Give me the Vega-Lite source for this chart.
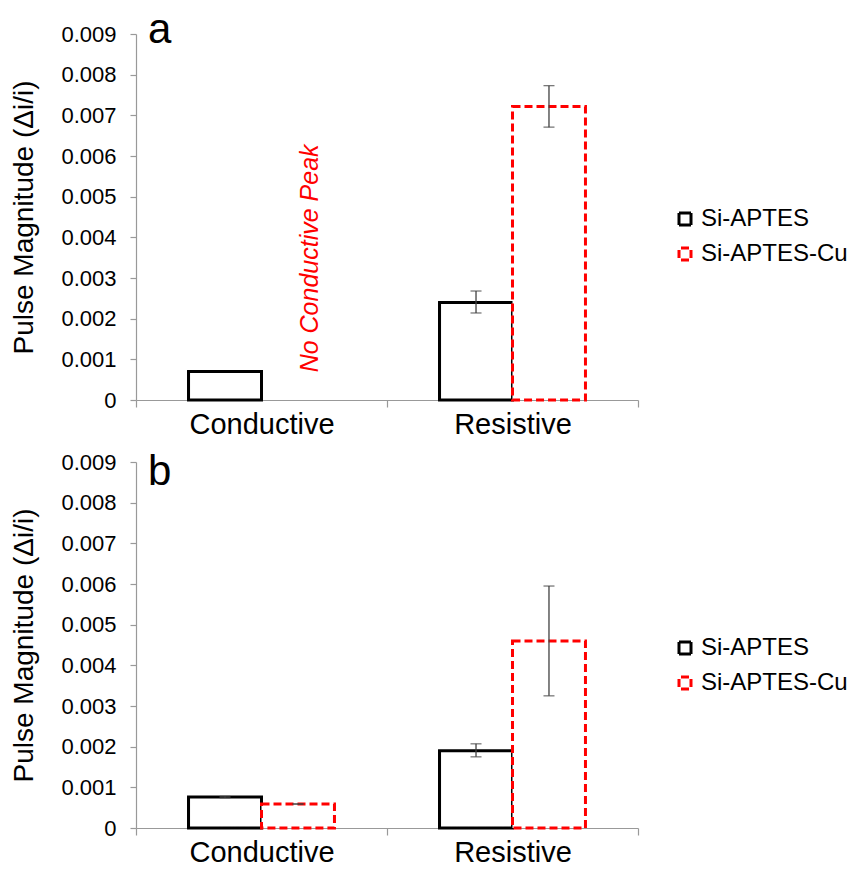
{
  "$schema": "https://vega.github.io/schema/vega-lite/v6.json",
  "padding": {"top": 8, "left": 10, "right": 0, "bottom": 0},
  "background": "white",
  "config": {
    "font": "Liberation Sans",
    "view": {"stroke": null},
    "axis": {"labelColor": "black", "titleColor": "black", "domainColor": "#999999", "tickColor": "#999999", "domainWidth": 1.2, "tickWidth": 1.2},
    "legend": {"labelFontSize": 24, "labelColor": "black", "symbolType": "square", "symbolSize": 144, "symbolStrokeWidth": 3, "symbolFillColor": "white", "symbolDashOffset": 10, "rowPadding": 11, "labelOffset": 4}
  },
  "datasets": {
    "a": [
      {"category": "Conductive", "series": "Si-APTES", "value": 0.0007},
      {"category": "Resistive", "series": "Si-APTES", "value": 0.0024, "lo": 0.00214, "hi": 0.00268},
      {"category": "Resistive", "series": "Si-APTES-Cu", "value": 0.00722, "lo": 0.00671, "hi": 0.00773}
    ],
    "b": [
      {"category": "Conductive", "series": "Si-APTES", "value": 0.00076, "lo": 0.000745, "hi": 0.000775},
      {"category": "Conductive", "series": "Si-APTES-Cu", "value": 0.00059, "lo": 0.000583, "hi": 0.000597},
      {"category": "Resistive", "series": "Si-APTES", "value": 0.0019, "lo": 0.00175, "hi": 0.00207},
      {"category": "Resistive", "series": "Si-APTES-Cu", "value": 0.0046, "lo": 0.00325, "hi": 0.00595}
    ]
  },
  "resolve": {"scale": {"stroke": "independent", "strokeDash": "independent"}},
  "spacing": 12,
  "vconcat": [
    {
      "width": 502,
      "height": 366,
      "layer": [
        {
          "data": {"name": "a"},
          "mark": {"type": "bar", "fill": "white", "strokeWidth": 3},
          "encoding": {
            "x": {"field": "category", "type": "nominal", "sort": ["Conductive", "Resistive"],
              "scale": {"paddingInner": 0, "paddingOuter": 0},
              "axis": {"title": null, "labelAngle": 0, "labelFontSize": 29, "labelPadding": 3, "tickBand": "extent", "tickSize": 7}},
            "xOffset": {"field": "series", "type": "nominal", "scale": {"domain": ["Si-APTES", "Si-APTES-Cu"], "paddingInner": 0, "paddingOuter": 0.72}},
            "y": {"field": "value", "type": "quantitative",
              "scale": {"domain": [0, 0.009], "nice": false},
              "axis": {"title": "Pulse Magnitude (Δi/i)", "titleFontSize": 28, "titleFontWeight": "normal", "titlePadding": 22, "values": [0, 0.001, 0.002, 0.003, 0.004, 0.005, 0.006, 0.007, 0.008, 0.009], "labelExpr": "datum.value == 0 ? '0' : format(datum.value, '.3f')", "labelFontSize": 22, "grid": false, "tickSize": 6, "labelPadding": 14}},
            "stroke": {"field": "series", "type": "nominal", "scale": {"domain": ["Si-APTES", "Si-APTES-Cu"], "range": ["#000000", "#ff0000"]},
              "legend": {"title": null, "orient": "none", "legendX": 537, "legendY": 173}},
            "strokeDash": {"field": "series", "type": "nominal", "scale": {"domain": ["Si-APTES", "Si-APTES-Cu"], "range": [[1, 0], [8, 4]]}, "legend": null}
          }
        },
        {
          "data": {"name": "a"},
          "mark": {"type": "rule", "color": "#404040", "strokeWidth": 1.3},
          "encoding": {
            "x": {"field": "category", "type": "nominal"},
            "xOffset": {"field": "series", "type": "nominal"},
            "y": {"field": "lo", "type": "quantitative"},
            "y2": {"field": "hi"}
          }
        },
        {
          "data": {"name": "a"},
          "mark": {"type": "tick", "color": "#404040", "thickness": 1.3, "size": 11, "orient": "horizontal"},
          "encoding": {
            "x": {"field": "category", "type": "nominal"},
            "xOffset": {"field": "series", "type": "nominal"},
            "y": {"field": "lo", "type": "quantitative"}
          }
        },
        {
          "data": {"name": "a"},
          "mark": {"type": "tick", "color": "#404040", "thickness": 1.3, "size": 11, "orient": "horizontal"},
          "encoding": {
            "x": {"field": "category", "type": "nominal"},
            "xOffset": {"field": "series", "type": "nominal"},
            "y": {"field": "hi", "type": "quantitative"}
          }
        },
        {
          "data": {"values": [{"category": "Conductive", "series": "Si-APTES-Cu", "pos": 0.00068, "label": "No Conductive Peak"}]},
          "mark": {"type": "text", "angle": 270, "align": "left", "baseline": "middle", "fontStyle": "italic", "fontSize": 25, "color": "#ff0000", "dy": 12},
          "encoding": {
            "x": {"field": "category", "type": "nominal"},
            "xOffset": {"field": "series", "type": "nominal"},
            "y": {"field": "pos", "type": "quantitative"},
            "text": {"field": "label"}
          }
        },
        {
          "data": {"values": [{"category": "Conductive", "pos": 0.00878, "label": "a"}]},
          "mark": {"type": "text", "align": "left", "baseline": "alphabetic", "fontSize": 42, "color": "black", "dx": 12},
          "encoding": {
            "x": {"field": "category", "type": "nominal", "bandPosition": 0},
            "y": {"field": "pos", "type": "quantitative"},
            "text": {"field": "label"}
          }
        }
      ]
    },
    {
      "width": 502,
      "height": 366,
      "layer": [
        {
          "data": {"name": "b"},
          "mark": {"type": "bar", "fill": "white", "strokeWidth": 3},
          "encoding": {
            "x": {"field": "category", "type": "nominal", "sort": ["Conductive", "Resistive"],
              "scale": {"paddingInner": 0, "paddingOuter": 0},
              "axis": {"title": null, "labelAngle": 0, "labelFontSize": 29, "labelPadding": 3, "tickBand": "extent", "tickSize": 7}},
            "xOffset": {"field": "series", "type": "nominal", "scale": {"domain": ["Si-APTES", "Si-APTES-Cu"], "paddingInner": 0, "paddingOuter": 0.72}},
            "y": {"field": "value", "type": "quantitative",
              "scale": {"domain": [0, 0.009], "nice": false},
              "axis": {"title": "Pulse Magnitude (Δi/i)", "titleFontSize": 28, "titleFontWeight": "normal", "titlePadding": 22, "values": [0, 0.001, 0.002, 0.003, 0.004, 0.005, 0.006, 0.007, 0.008, 0.009], "labelExpr": "datum.value == 0 ? '0' : format(datum.value, '.3f')", "labelFontSize": 22, "grid": false, "tickSize": 6, "labelPadding": 14}},
            "stroke": {"field": "series", "type": "nominal", "scale": {"domain": ["Si-APTES", "Si-APTES-Cu"], "range": ["#000000", "#ff0000"]},
              "legend": {"title": null, "orient": "none", "legendX": 537, "legendY": 174}},
            "strokeDash": {"field": "series", "type": "nominal", "scale": {"domain": ["Si-APTES", "Si-APTES-Cu"], "range": [[1, 0], [8, 4]]}, "legend": null}
          }
        },
        {
          "data": {"name": "b"},
          "mark": {"type": "rule", "color": "#404040", "strokeWidth": 1.3},
          "encoding": {
            "x": {"field": "category", "type": "nominal"},
            "xOffset": {"field": "series", "type": "nominal"},
            "y": {"field": "lo", "type": "quantitative"},
            "y2": {"field": "hi"}
          }
        },
        {
          "data": {"name": "b"},
          "mark": {"type": "tick", "color": "#404040", "thickness": 1.3, "size": 11, "orient": "horizontal"},
          "encoding": {
            "x": {"field": "category", "type": "nominal"},
            "xOffset": {"field": "series", "type": "nominal"},
            "y": {"field": "lo", "type": "quantitative"}
          }
        },
        {
          "data": {"name": "b"},
          "mark": {"type": "tick", "color": "#404040", "thickness": 1.3, "size": 11, "orient": "horizontal"},
          "encoding": {
            "x": {"field": "category", "type": "nominal"},
            "xOffset": {"field": "series", "type": "nominal"},
            "y": {"field": "hi", "type": "quantitative"}
          }
        },
        {
          "data": {"values": [{"category": "Conductive", "pos": 0.00843, "label": "b"}]},
          "mark": {"type": "text", "align": "left", "baseline": "alphabetic", "fontSize": 42, "color": "black", "dx": 12},
          "encoding": {
            "x": {"field": "category", "type": "nominal", "bandPosition": 0},
            "y": {"field": "pos", "type": "quantitative"},
            "text": {"field": "label"}
          }
        }
      ]
    }
  ]
}
